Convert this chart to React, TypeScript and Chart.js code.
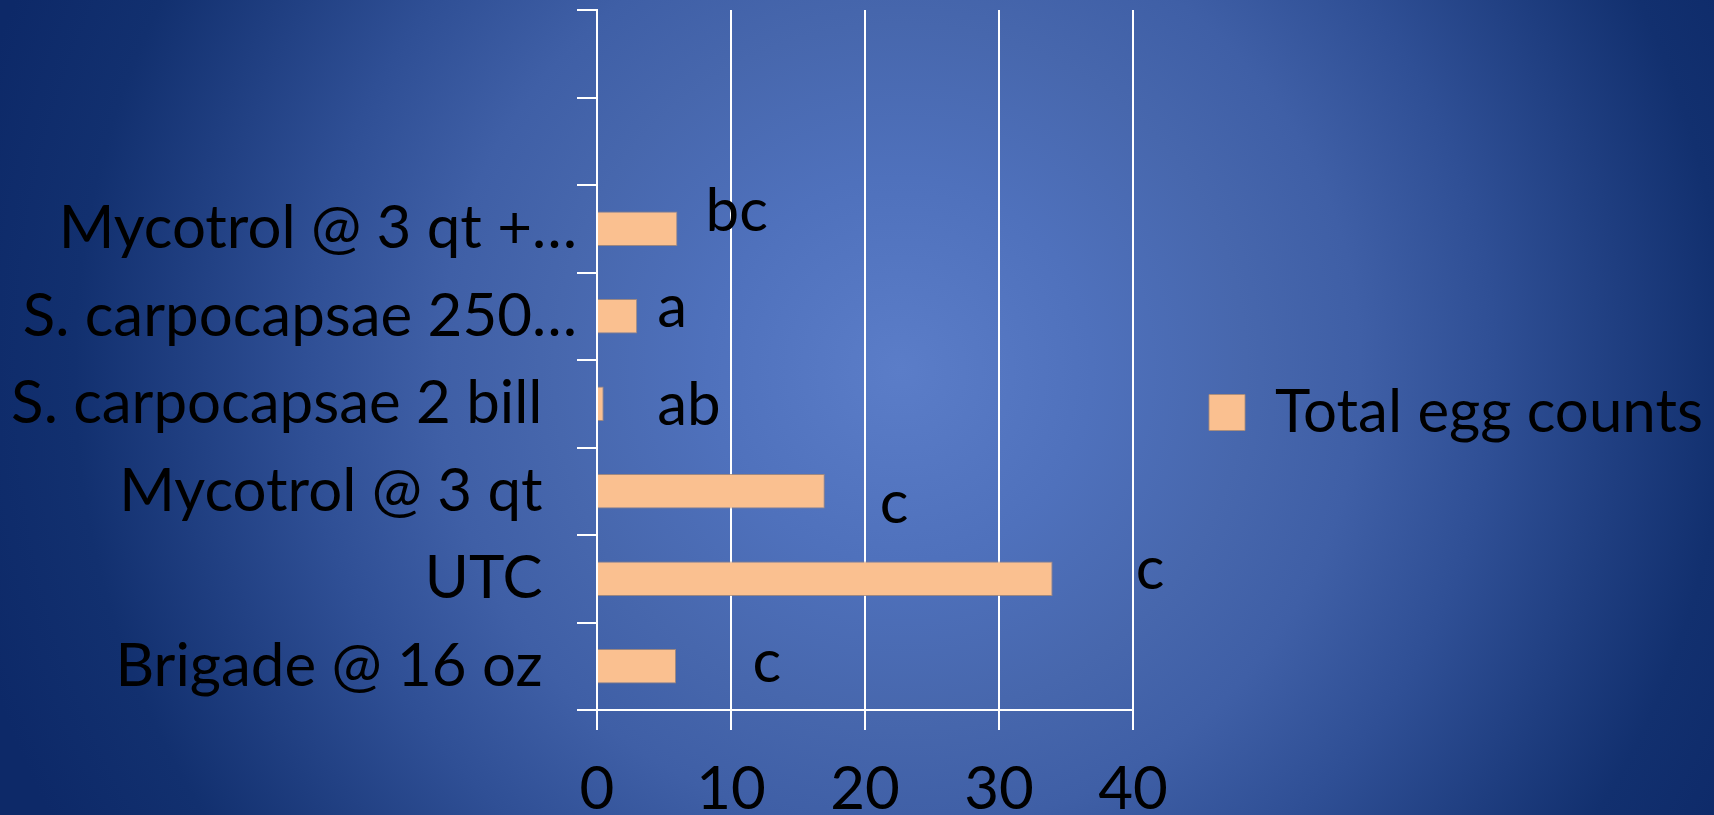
import React, { useEffect, useRef } from 'react';
import { Chart, registerables } from 'chart.js';

Chart.register(...registerables);

// ---- data (bottom → top) ----
const categories = [
  'Brigade @ 16 oz',
  'UTC',
  'Mycotrol @ 3 qt',
  'S. carpocapsae 2 bill',
  'S. carpocapsae 250…',
  'Mycotrol @ 3 qt +…',
  '',
  '',
];
const totalEggCounts = [5.9, 34, 17, 0.5, 3, 6, null, null];
const seriesName = 'Total egg counts';

// significance letters, with their anchor (value units) and vertical shift (category units)
const letters = ['c', 'c', 'c', 'ab', 'a', 'bc', '', ''];
const letterAt = [11.6, 40.2, 21.1, 4.5, 4.5, 8.1, null, null];
const letterShift = [0, 0.06, -0.18, -0.06, 0.05, 0.15, 0, 0];

const xMin = 0;
const xMax = 40;
const xStep = 10;

const FONT = 'Lato';
const FS = 60;

const letterPlugin = {
  id: 'sigLetters',
  afterDatasetsDraw(chart: any) {
    const { ctx, scales } = chart;
    const x = scales.x;
    const y = scales.y;
    ctx.save();
    ctx.font = `${FS}px ${FONT}`;
    ctx.fillStyle = '#000000';
    ctx.textAlign = 'left';
    ctx.textBaseline = 'alphabetic';
    const xh = ctx.measureText('x').actualBoundingBoxAscent || FS * 0.5;
    letters.forEach((t, i) => {
      const v = letterAt[i];
      if (!t || v == null) return;
      const px = x.getPixelForValue(v);
      const py = y.getPixelForValue(i + letterShift[i]);
      ctx.fillText(t, px, py + xh / 2);
    });
    ctx.restore();
  },
};

export default function App() {
  const ref = useRef<HTMLCanvasElement | null>(null);

  useEffect(() => {
    if (!ref.current) return;
    Chart.defaults.font.family = FONT;
    Chart.defaults.color = '#000000';
    const chart = new Chart(ref.current, {
      type: 'bar',
      data: {
        labels: categories,
        datasets: [
          {
            label: seriesName,
            data: totalEggCounts,
            backgroundColor: '#FAC090',
            borderColor: 'rgba(170,140,120,0.85)',
            borderWidth: 1,
            barPercentage: 0.394,
            categoryPercentage: 1,
          },
        ],
      },
      options: {
        indexAxis: 'y',
        responsive: false,
        animation: false,
        devicePixelRatio: 1,
        layout: { padding: { top: 10, left: 0, right: 2, bottom: 0 } },
        plugins: {
          tooltip: { enabled: false },
          legend: {
            display: true,
            position: 'right',
            maxWidth: 579,
            labels: {
              boxWidth: 36,
              boxHeight: 36,
              padding: 76,
              color: '#000000',
              font: { family: FONT, size: FS },
            },
          },
        },
        scales: {
          x: {
            type: 'linear',
            min: xMin,
            max: xMax,
            afterFit: (s: any) => {
              s.height = 105;
              s.paddingLeft = 0;
              s.paddingRight = 0;
            },
            ticks: {
              stepSize: xStep,
              color: '#000000',
              padding: 24,
              font: { family: FONT, size: FS, lineHeight: 1.2 },
            },
            grid: {
              display: true,
              drawOnChartArea: true,
              drawTicks: true,
              tickLength: 20,
              color: '#ffffff',
              lineWidth: 2,
            },
            border: { display: true, color: '#ffffff', width: 2 },
          },
          y: {
            type: 'category',
            reverse: true,
            afterFit: (s: any) => {
              s.width = 597;
              s.paddingTop = 0;
              s.paddingBottom = 0;
            },
            ticks: {
              autoSkip: false,
              color: '#000000',
              padding: 0,
              font: { family: FONT, size: FS },
              // full labels sit further from the axis than the truncated (…) ones
              callback: (_v: any, i: number) => {
                const l = categories[i];
                if (!l) return '';
                return l.endsWith('…') ? l : l + '  \u200A';
              },
            },
            grid: {
              display: true,
              offset: true,
              drawOnChartArea: false,
              drawTicks: true,
              tickLength: 20,
              color: '#ffffff',
              lineWidth: 2,
            },
            border: { display: true, color: '#ffffff', width: 2 },
          },
        },
      },
      plugins: [letterPlugin],
    } as any);
    return () => chart.destroy();
  }, []);

  return (
    <div
      style={{
        position: 'fixed',
        left: 0,
        top: 0,
        width: 1714,
        height: 815,
        overflow: 'hidden',
        background:
          'radial-gradient(circle 960px at 900px 370px, #5b7dc8 0%, #4f71bc 20%, #4767ad 36%, #3f5fa6 48%, #2f4f95 62%, #12306f 86%, #0d2968 100%)',
      }}
    >
      <canvas ref={ref} width={1714} height={815} style={{ display: 'block', width: 1714, height: 815 }} />
    </div>
  );
}
